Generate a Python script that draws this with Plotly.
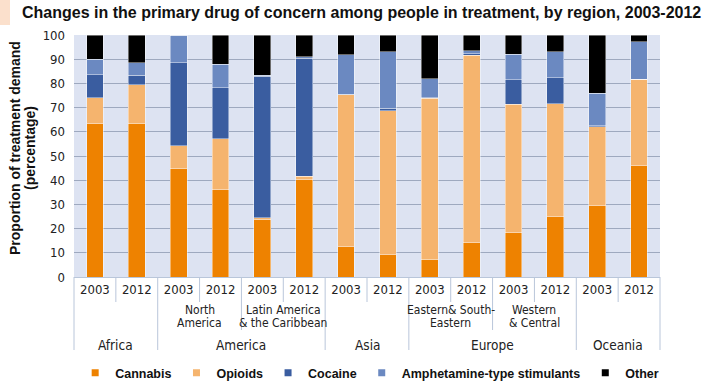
import plotly.graph_objects as go

# ---------------- data ----------------
years = ["2003", "2012"] * 7
regions = ["Africa"] * 2 + ["America"] * 4 + ["Asia"] * 2 + ["Europe"] * 4 + ["Oceania"] * 2
subregions = ["", "", "North America", "North America", "Latin America", "Latin America",
              "", "", "Eastern", "Eastern", "Western", "Western", "", ""]
subregion_lines = {
    "North America": ["North", "America"],
    "Latin America": ["Latin America", "& the Caribbean"],
    "Eastern": ["Eastern& South-", "Eastern"],
    "Western": ["Western", "& Central"],
}

cannabis = [63.3, 63.6, 44.7, 36.0, 23.9, 40.3, 12.4, 9.2, 7.3, 14.1, 18.2, 24.8, 29.4, 45.9]
opioids = [10.8, 15.8, 9.6, 21.1, 0.5, 1.4, 62.9, 59.5, 66.5, 77.6, 53.1, 46.8, 32.7, 35.8]
cocaine = [9.5, 4.0, 34.3, 21.1, 58.6, 48.6, 0.2, 1.1, 0.3, 0.6, 10.2, 10.7, 0.4, 0.1]
ats = [6.3, 5.2, 11.4, 9.8, 0.3, 0.7, 16.4, 23.2, 7.9, 1.2, 10.6, 10.8, 13.4, 15.5]
other = [10.1, 11.4, 0.0, 12.0, 16.7, 9.0, 8.1, 7.0, 18.0, 6.5, 7.9, 6.9, 24.1, 2.7]

series_names = ["Cannabis", "Opioids", "Cocaine", "Amphetamine-type stimulants", "Other"]
series_values = [cannabis, opioids, cocaine, ats, other]
series_colors = ["#EE8200", "#F5B46E", "#3A5DA0", "#6B89C1", "#000000"]

title_text = "Changes in the primary drug of concern among people in treatment, by region, 2003-2012"
y_title = ["Proportion of treatment demand", "(percentage)"]

# ---------------- figure ----------------
n = len(years)
xpos = list(range(n))
fig = go.Figure()

for name, vals, col in zip(series_names, series_values, series_colors):
    fig.add_trace(go.Bar(x=xpos, y=vals, name=name, marker_color=col,
                         marker_line=dict(color="rgba(255,255,255,0.7)", width=0.6),
                         showlegend=False))
    fig.add_trace(go.Scatter(x=[None], y=[None], mode="markers", name="<b>" + name + "</b>",
                             marker=dict(symbol="square", size=7, color=col),
                             showlegend=True))

PLOT_H = 242.0
W_PLOT = 586.0
sep_col = "#B9C6DA"
label_font = "DejaVu Sans Condensed, DejaVu Sans, sans-serif"
bold_font = "Liberation Sans, Arial, sans-serif"

# separators under axis
boundaries = [b + 0.5 for b in range(-1, n)]
shapes = []
for b in boundaries:
    left = int(b - 0.5)
    right = int(b + 0.5)
    if left < 0 or right >= n or regions[left] != regions[right]:
        depth = 73
    elif subregions[left] != subregions[right]:
        depth = 53
    else:
        depth = 25
    px = (b + 0.5) / n
    shapes.append(dict(type="line", xref="paper", yref="paper", x0=px, x1=px,
                       y0=0, y1=-depth / PLOT_H, line=dict(color=sep_col, width=1)))

# peach accent at top-left
shapes.append(dict(type="rect", xref="paper", yref="paper",
                   x0=-74 / W_PLOT, x1=-64 / W_PLOT, y0=1 + 10 / PLOT_H, y1=1 + 35 / PLOT_H,
                   fillcolor="#FBE0CC", line=dict(width=0)))

annotations = []
# subregion labels
seen = []
for s in subregions:
    if s and s not in seen:
        seen.append(s)
        idx = [j for j, t in enumerate(subregions) if t == s]
        cx = (min(idx) + max(idx)) / 2
        for k, line in enumerate(subregion_lines[s]):
            annotations.append(dict(x=cx, y=0, xref="x", yref="paper", text=line,
                                    showarrow=False, yanchor="middle", yshift=-(33 + 13 * k),
                                    font=dict(family=label_font, size=12, color="#222")))
# region labels
seen = []
for r in regions:
    if r not in seen:
        seen.append(r)
        idx = [j for j, t in enumerate(regions) if t == r]
        cx = (min(idx) + max(idx)) / 2
        annotations.append(dict(x=cx, y=0, xref="x", yref="paper", text=r,
                                showarrow=False, yanchor="middle", yshift=-68,
                                font=dict(family=label_font, size=13.5, color="#222")))

# y axis title
for k, line in enumerate(y_title):
    annotations.append(dict(x=(15 + 15 * k - 74) / W_PLOT, y=0.533, xref="paper", yref="paper",
                            text="<b>" + line + "</b>", textangle=-90, showarrow=False,
                            xanchor="center", yanchor="middle",
                            font=dict(family=bold_font, size=14, color="#111")))

fig.update_layout(
    width=717, height=381,
    margin=dict(l=74, r=57, t=35, b=104, autoexpand=False),
    paper_bgcolor="white",
    plot_bgcolor="#DDE3F2",
    barmode="stack",
    bargap=0.6,
    title=dict(text="<b>" + title_text + "</b>", x=22 / 717, xanchor="left",
               xref="container", y=1 - 12 / 381, yanchor="middle", yref="container",
               font=dict(family=bold_font, size=16, color="#111")),
    xaxis=dict(range=[-0.5, n - 0.5], tickmode="array", tickvals=xpos, ticktext=years,
               showgrid=False, zeroline=False, showline=True, linecolor=sep_col, linewidth=1,
               ticks="", automargin=False,
               tickfont=dict(family=label_font, size=13, color="#222")),
    yaxis=dict(range=[0, 100], dtick=10, showgrid=True, gridcolor="#9EA9BF", gridwidth=1,
               zeroline=False, ticks="", ticklabelstandoff=8, automargin=False,
               tickfont=dict(family=label_font, size=13, color="#222")),
    legend=dict(orientation="h", x=0.002, xanchor="left",
                y=-96 / PLOT_H, yanchor="middle", traceorder="normal",
                font=dict(family=bold_font, size=12.5, color="#111"),
                itemwidth=30, bgcolor="rgba(0,0,0,0)"),
    shapes=shapes,
    annotations=annotations,
)

fig.write_html("out.html", config={"displayModeBar": False},
               post_script="document.body.style.margin='0';")
